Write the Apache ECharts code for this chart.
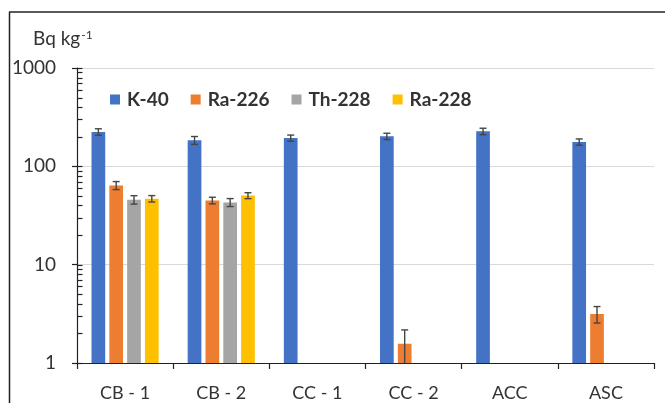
<!DOCTYPE html>
<html>
<head>
<meta charset="utf-8">
<script src="https://cdn.jsdelivr.net/npm/echarts@6/dist/echarts.min.js"></script>
<style>html,body{margin:0;padding:0;background:#fff}#c{width:665px;height:403px}</style>
</head>
<body>
<div id="c"></div>
<script>
const categories = ['CB - 1', 'CB - 2', 'CC - 1', 'CC - 2', 'ACC', 'ASC'];
const seriesNames = ['K-40', 'Ra-226', 'Th-228', 'Ra-228'];
const k40 = [224, 184, 194, 202, 227, 177];
const k40Err = [17, 17, 14, 15, 17, 13];
const ra226 = [64, 45, null, 1.57, null, 3.15];
const ra226Err = [6, 3.5, null, 0.6, null, 0.6];
const th228 = [45.8, 43, null, null, null, null];
const th228Err = [4.5, 4, null, null, null, null];
const ra228 = [46.9, 50.4, null, null, null, null];
const ra228Err = [3.5, 3.5, null, null, null, null];
const yTicks = [1, 10, 100, 1000];

const values = [k40, ra226, th228, ra228];
const errors = [k40Err, ra226Err, th228Err, ra228Err];
const colors = ['#4472C4', '#ED7D31', '#A5A5A5', '#FFC000'];
const FONT = 'Lato';
const BAR_W = 13.7;
const GAP = 0.3;
const Y_MIN = yTicks[0], Y_MAX = yTicks[yTicks.length - 1];
const LEGEND_TEXT_W = [40, 63, 65, 64];

// log minor tick values (2..9 within each decade)
const minorTicks = [];
for (let d = 0; d < yTicks.length - 1; d++) {
  for (let m = 2; m <= 9; m++) minorTicks.push(yTicks[d] * m);
}

const chart = echarts.init(document.getElementById('c'), null, {renderer: 'canvas'});

const series = [];
values.forEach((vals, i) => {
  series.push({
    name: seriesNames[i], type: 'bar', data: vals, barWidth: BAR_W, barGap: (GAP * 100) + '%',
    itemStyle: {color: colors[i]}, z: 2
  });
});
values.forEach((vals, i) => {
  const data = [];
  vals.forEach((v, j) => { if (v != null) data.push([j, v, errors[i][j]]); });
  series.push({
    type: 'custom', name: seriesNames[i] + ' err', z: 5,
    silent: true, legendHoverLink: false,
    data: data,
    renderItem: function (params, api) {
      const j = api.value(0), v = api.value(1), e = api.value(2);
      const center = api.coord([j, v]);
      const pitch = BAR_W * (1 + GAP);
      const x = center[0] + (i - 1.5) * pitch;
      const hiV = v + e;
      let loV = v - e;
      const clipped = loV < Y_MIN;
      if (clipped) loV = Y_MIN;
      const yHi = api.coord([j, hiV])[1];
      const yLo = api.coord([j, loV])[1];
      const cap = 3.5;
      const st = {stroke: '#454545', lineWidth: 1.4};
      const children = [
        {type: 'line', shape: {x1: x, y1: yHi, x2: x, y2: yLo}, style: st},
        {type: 'line', shape: {x1: x - cap, y1: yHi, x2: x + cap, y2: yHi}, style: st}
      ];
      if (!clipped) children.push({type: 'line', shape: {x1: x - cap, y1: yLo, x2: x + cap, y2: yLo}, style: st});
      return {type: 'group', children: children};
    }
  });
});
// inner tick marks on the y axis (log minor ticks and inner half of crossing major ticks)
series.push({
  type: 'custom', name: 'ticks', z: 10, silent: true, legendHoverLink: false,
  data: minorTicks.concat(yTicks).map(v => [0, v]),
  renderItem: function (params, api) {
    const band = api.size([1, 0])[0];
    const ax = Math.round(api.coord([0, api.value(1)])[0] - band / 2) + 0.5;
    const y = Math.round(api.coord([0, api.value(1)])[1]) + 0.5;
    return {type: 'line', shape: {x1: ax, y1: y, x2: ax + 5, y2: y}, style: {stroke: '#222', lineWidth: 1.2}};
  }
});

const ctx = document.createElement('canvas').getContext('2d');
ctx.font = '19px ' + FONT;
const titleW = ctx.measureText('Bq kg').width;

const rich = {};
LEGEND_TEXT_W.forEach((w, i) => { rich['t' + i] = {width: w, fontFamily: FONT, fontSize: 19, fontWeight: 'bold', color: '#333', padding: [0, 0, 0, 2]}; });

chart.setOption({
  animation: false,
  backgroundColor: '#fff',
  textStyle: {fontFamily: FONT},
  grid: {left: 77, right: 11, top: 68, bottom: 40, containLabel: false},
  legend: {
    data: seriesNames, left: 105, top: 85, icon: 'rect', itemWidth: 10, itemHeight: 10, itemGap: 22,
    formatter: name => '{t' + seriesNames.indexOf(name) + '|' + name + '}',
    textStyle: {fontFamily: FONT, fontSize: 19, fontWeight: 'bold', color: '#333', rich: rich}
  },
  xAxis: {
    type: 'category', data: categories,
    axisLine: {lineStyle: {color: '#222', width: 1.2}},
    axisTick: {show: true, length: 6, lineStyle: {color: '#222', width: 1.2}},
    axisLabel: {fontFamily: FONT, fontSize: 18, color: '#333', margin: 21},
    splitLine: {show: false}
  },
  yAxis: {
    type: 'log', logBase: 10, min: Y_MIN, max: Y_MAX, position: 'left',
    axisLine: {show: true, lineStyle: {color: '#222', width: 1.2}},
    axisTick: {show: true, length: 5, lineStyle: {color: '#222', width: 1.2}},
    axisLabel: {fontFamily: FONT, fontSize: 19, color: '#333', margin: 21, formatter: v => String(v)},
    splitLine: {show: true, lineStyle: {color: '#d9d9d9', width: 1.2}}
  },
  graphic: [
    {type: 'line', shape: {x1: 9, y1: 12, x2: 665, y2: 12}, style: {stroke: '#222', lineWidth: 1.5}},
    {type: 'line', shape: {x1: 9.5, y1: 12, x2: 9.5, y2: 403}, style: {stroke: '#222', lineWidth: 1.5}},
    {type: 'text', left: 33, top: 29, style: {text: 'Bq kg', font: '19px ' + FONT, fill: '#333'}},
    {type: 'text', left: 33 + titleW + 1, top: 29, style: {text: '-1', font: '12px ' + FONT, fill: '#333'}}
  ],
  series: series
});
</script>
</body>
</html>
